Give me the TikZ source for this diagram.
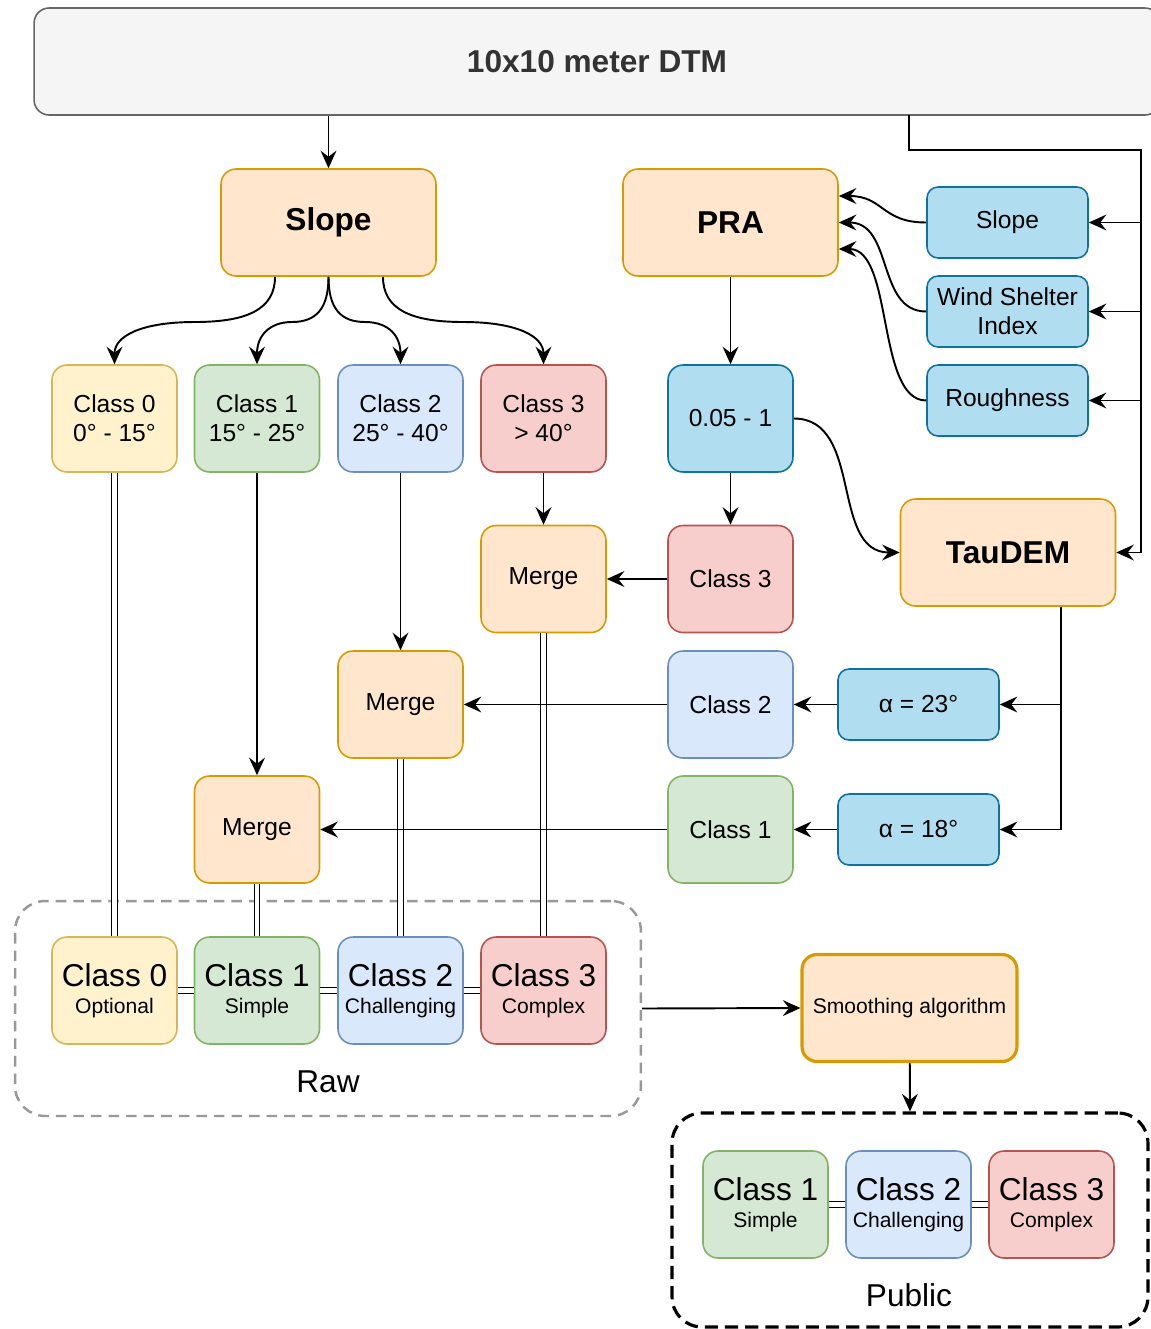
\documentclass[tikz,border=0pt]{standalone}
\usepackage{fontspec}
\setmainfont{Liberation Sans}
\usetikzlibrary{positioning,arrows.meta}

\definecolor{dtmfill}{HTML}{F5F5F5}
\definecolor{dtmdraw}{HTML}{666666}
\definecolor{dtmtext}{HTML}{333333}
\definecolor{orfill}{HTML}{FFE6CC}
\definecolor{ordraw}{HTML}{D79B00}
\definecolor{ylfill}{HTML}{FFF2CC}
\definecolor{yldraw}{HTML}{D6B656}
\definecolor{grfill}{HTML}{D5E8D4}
\definecolor{grdraw}{HTML}{82B366}
\definecolor{blfill}{HTML}{DAE8FC}
\definecolor{bldraw}{HTML}{6C8EBF}
\definecolor{rdfill}{HTML}{F8CECC}
\definecolor{rddraw}{HTML}{B85450}
\definecolor{cyfill}{HTML}{B1DDF0}
\definecolor{cydraw}{HTML}{10739E}
\definecolor{rawdraw}{HTML}{999999}

\begin{document}
\begin{tikzpicture}[x=0.02cm,y=-0.02cm,
  box/.style={rounded corners=0.3cm, minimum width=2.5cm, minimum height=2.14cm,
    line width=0.9pt, align=center, inner sep=2pt, font=\fontsize{14}{16.5}\selectfont},
  bigbox/.style={box, fill=orfill, draw=ordraw, minimum width=4.3cm,
    font=\fontsize{18}{21}\selectfont\bfseries},
  orbox/.style={box, fill=orfill, draw=ordraw},
  ylbox/.style={box, fill=ylfill, draw=yldraw},
  grbox/.style={box, fill=grfill, draw=grdraw},
  blbox/.style={box, fill=blfill, draw=bldraw},
  rdbox/.style={box, fill=rdfill, draw=rddraw},
  cybox/.style={box, fill=cyfill, draw=cydraw, minimum width=3.22cm, minimum height=1.42cm,
    rounded corners=0.22cm},
  conn/.style={line width=1.1pt, -{Stealth[length=10pt,width=9pt,inset=3.5pt]}},
  dbl/.style={double, double distance=2.3pt, line width=0.8pt},
  ]
  \useasboundingbox (0,0) rectangle (1151,1329);

  % groups
  \node[draw=rawdraw, line width=1.4pt, dash pattern=on 6pt off 4pt, rounded corners=0.6cm,
    minimum width=12.52cm, minimum height=4.3cm] (raw) at (328,1008.5) {};
  \node (rawlbl) at (328,1082) {\fontsize{18}{21}\selectfont Raw};
  \node[draw=black, line width=1.8pt, dash pattern=on 7.5pt off 4pt, rounded corners=0.6cm,
    minimum width=9.52cm, minimum height=4.28cm] (pub) at (910,1220) {};
  \node (publbl) at (909,1295) {\fontsize{18}{21}\selectfont Public};

  % top row
  \node[box, fill=dtmfill, draw=dtmdraw, minimum width=22.52cm, text=dtmtext,
    font=\fontsize{18}{21}\selectfont\bfseries] (dtm) at (597,61.5) {10x10 meter DTM};
  \node[bigbox] (slope) at (328.5,222.5) {Slope};
  \node[bigbox] (pra) at (730.5,222.5) {PRA};
  \node[cybox] (sslope) at (1007.5,222.5) {Slope};
  \node[cybox] (wsi) at (1007.5,311.5) {Wind Shelter\\Index};
  \node[cybox] (rough) at (1007.5,400.5) {Roughness};

  % slope classes
  \node[ylbox] (c0) at (114.5,418.5) {Class 0\\0° - 15°};
  \node[grbox] (c1) at (257,418.5) {Class 1\\15° - 25°};
  \node[blbox] (c2) at (400.5,418.5) {Class 2\\25° - 40°};
  \node[rdbox] (c3) at (543.5,418.5) {Class 3\\> 40°};
  \node[box, fill=cyfill, draw=cydraw] (thr) at (730.5,418.5) {0.05 - 1};
  \node[bigbox] (tau) at (1008,552.5) {TauDEM};

  % merges
  \node[orbox] (m3) at (543.5,579) {Merge};
  \node[rdbox] (p3) at (730.5,579) {Class 3};
  \node[orbox] (m2) at (400.5,704.5) {Merge};
  \node[blbox] (p2) at (730.5,704.5) {Class 2};
  \node[cybox] (a23) at (918.5,704.5) {α = 23°};
  \node[orbox] (m1) at (257,829.5) {Merge};
  \node[grbox] (p1) at (730.5,829.5) {Class 1};
  \node[cybox] (a18) at (918.5,829.5) {α = 18°};

  % raw classes
  \node[ylbox] (r0) at (114.5,990.5) {\fontsize{18}{18}\selectfont Class 0\\[-1pt]{\fontsize{12}{14}\selectfont Optional}};
  \node[grbox] (r1) at (257,990.5) {\fontsize{18}{18}\selectfont Class 1\\[-1pt]{\fontsize{12}{14}\selectfont Simple}};
  \node[blbox] (r2) at (400.5,990.5) {\fontsize{18}{18}\selectfont Class 2\\[-1pt]{\fontsize{12}{14}\selectfont Challenging}};
  \node[rdbox] (r3) at (543.5,990.5) {\fontsize{18}{18}\selectfont Class 3\\[-1pt]{\fontsize{12}{14}\selectfont Complex}};

  \node[orbox, line width=1.8pt, minimum width=4.3cm, font=\fontsize{12}{14}\selectfont] (smooth) at (909.5,1008) {Smoothing algorithm};

  % public classes
  \node[grbox] (q1) at (765.5,1204.5) {\fontsize{18}{18}\selectfont Class 1\\[-1pt]{\fontsize{12}{14}\selectfont Simple}};
  \node[blbox] (q2) at (908.5,1204.5) {\fontsize{18}{18}\selectfont Class 2\\[-1pt]{\fontsize{12}{14}\selectfont Challenging}};
  \node[rdbox] (q3) at (1051.5,1204.5) {\fontsize{18}{18}\selectfont Class 3\\[-1pt]{\fontsize{12}{14}\selectfont Complex}};

  \coordinate (bus) at (1141,150);
  \coordinate (tbus) at (1061,829.5);

  % double links
  \draw[dbl] (c0) -- (r0);
  \draw[dbl] (m1) -- (r1);
  \draw[dbl] (m2) -- (r2);
  \draw[dbl] (m3) -- (r3);
  \draw[dbl] (r0) -- (r1);
  \draw[dbl] (r1) -- (r2);
  \draw[dbl] (r2) -- (r3);
  \draw[dbl] (q1) -- (q2);
  \draw[dbl] (q2) -- (q3);

  % arrows
  \draw[conn] (dtm.south -| slope.south) -- (slope.north);
  \draw[line width=1.1pt] (909,115) |- (bus) -- (bus |- tau.east);
  \draw[conn] (bus |- tau.east) -- (tau.east);
  \draw[conn] (bus |- sslope.east) -- (sslope.east);
  \draw[conn] (bus |- wsi.east) -- (wsi.east);
  \draw[conn] (bus |- rough.east) -- (rough.east);

  \draw[conn] ([xshift=-1.07cm]slope.south) .. controls +(0,32) and +(53,0) .. (195,322)
    .. controls +(-54,0) and +(0,-28) .. (c0.north);
  \draw[conn] (slope.south) .. controls +(0,32) and +(24,0) .. (292,322)
    .. controls +(-23,0) and +(0,-28) .. (c1.north);
  \draw[conn] (slope.south) .. controls +(0,32) and +(-24,0) .. (365,322)
    .. controls +(24,0) and +(0,-28) .. (c2.north);
  \draw[conn] ([xshift=1.09cm]slope.south) .. controls +(0,32) and +(-53,0) .. (463,322)
    .. controls +(54,0) and +(0,-28) .. (c3.north);

  \draw[conn] (sslope.west) .. controls +(-45,0) and +(45,0) .. ([yshift=0.53cm]pra.east);
  \draw[conn] (wsi.west) .. controls +(-50,0) and +(55,0) .. (pra.east);
  \draw[conn] (rough.west) .. controls +(-50,0) and +(55,0) .. ([yshift=-0.53cm]pra.east);

  \draw[conn] (pra) -- (thr);
  \draw[conn] (thr.east) .. controls +(70,0) and +(-70,0) .. (tau.west);
  \draw[conn] (thr) -- (p3);
  \draw[conn] (c3) -- (m3);
  \draw[conn] (p3) -- (m3);
  \draw[conn] (c2) -- (m2);
  \draw[conn] (p2) -- (m2);
  \draw[conn] (c1) -- (m1);
  \draw[conn] (p1) -- (m1);

  \draw[line width=1.1pt] (tau.south -| tbus) -- (tbus);
  \draw[conn] (tbus |- a23.east) -- (a23.east);
  \draw[conn] (tbus) -- (a18.east);
  \draw[conn] (a23) -- (p2);
  \draw[conn] (a18) -- (p1);

  \draw[conn] (raw.east) -- (smooth.west);
  \draw[conn] (smooth) -- (pub.north);
\end{tikzpicture}
\end{document}
